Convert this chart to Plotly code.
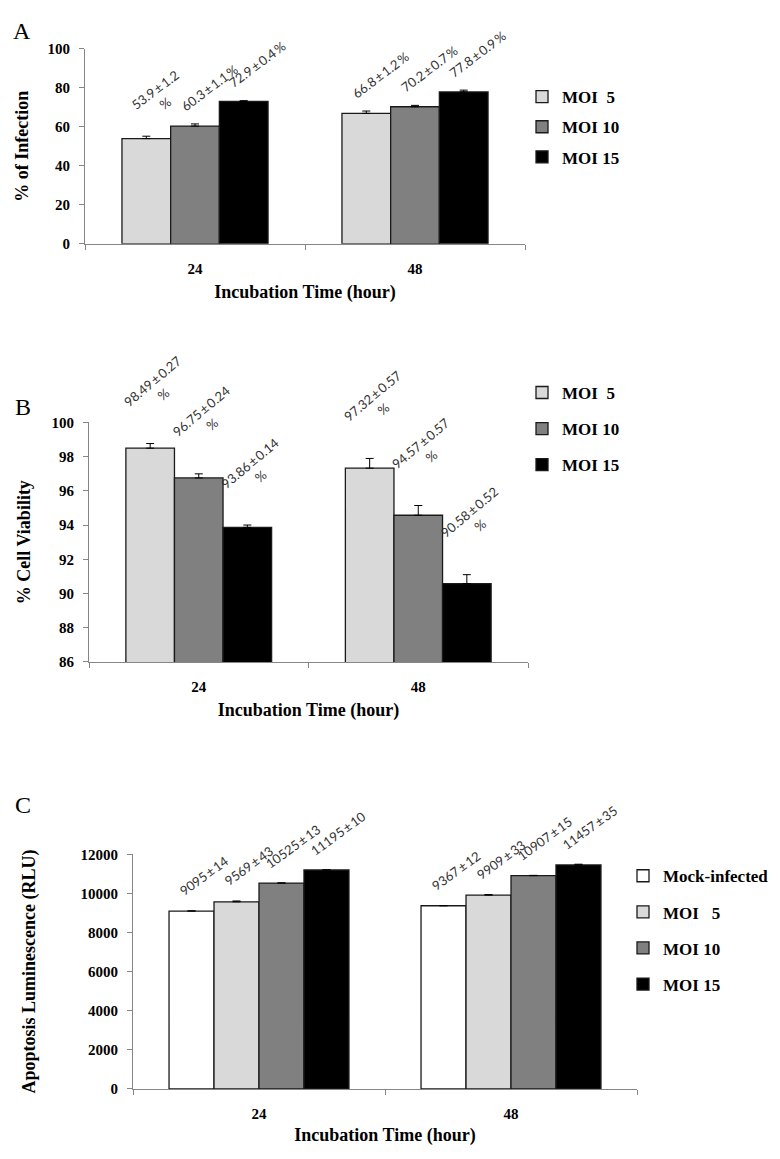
import plotly.graph_objects as go

W, H = 780, 1159

# ---------------- data ----------------
times = ["24", "48"]
PM = "\u2009±\u2009"

# Panel A: % of infection
a_names = ["MOI\u00a0\u00a05", "MOI 10", "MOI 15"]
a_moi5 = [53.9, 66.8]
a_moi5_err = [1.2, 1.2]
a_moi10 = [60.3, 70.2]
a_moi10_err = [1.1, 0.7]
a_moi15 = [72.9, 77.8]
a_moi15_err = [0.4, 0.9]
a_wrap = [[True, False], [False, False], [False, False]]

# Panel B: % cell viability
b_names = ["MOI\u00a0\u00a05", "MOI 10", "MOI 15"]
b_moi5 = [98.49, 97.32]
b_moi5_err = [0.27, 0.57]
b_moi10 = [96.75, 94.57]
b_moi10_err = [0.24, 0.57]
b_moi15 = [93.86, 90.58]
b_moi15_err = [0.14, 0.52]

# Panel C: apoptosis luminescence (RLU)
c_names = ["Mock-infected", "MOI\u00a0\u00a0\u00a05", "MOI 10", "MOI 15"]
c_mock = [9095, 9367]
c_mock_err = [14, 12]
c_moi5 = [9569, 9909]
c_moi5_err = [43, 33]
c_moi10 = [10525, 10907]
c_moi10_err = [13, 15]
c_moi15 = [11195, 11457]
c_moi15_err = [10, 35]

a_vals = [a_moi5, a_moi10, a_moi15]
a_errs = [a_moi5_err, a_moi10_err, a_moi15_err]
a_labels = [[f"{v:.1f}{PM}{e:.1f}" + ("<br>%" if w else "\u2009%")
             for v, e, w in zip(vs, es, ws)]
            for vs, es, ws in zip(a_vals, a_errs, a_wrap)]
b_vals = [b_moi5, b_moi10, b_moi15]
b_errs = [b_moi5_err, b_moi10_err, b_moi15_err]
b_labels = [[f"{v:.2f}{PM}{e:.2f}<br>%" for v, e in zip(vs, es)]
            for vs, es in zip(b_vals, b_errs)]
c_vals = [c_mock, c_moi5, c_moi10, c_moi15]
c_errs = [c_mock_err, c_moi5_err, c_moi10_err, c_moi15_err]
c_labels = [[f"{v}{PM}{e}" for v, e in zip(vs, es)]
            for vs, es in zip(c_vals, c_errs)]

# ---------------- style ----------------
WHITE, LIGHT, MID, DARK = "#FFFFFF", "#D9D9D9", "#808080", "#000000"
SERIF = "Liberation Serif"
SANS = "Lato"
AXIS_GRAY = "#868686"

fig = go.Figure()


def px_x(p):
    return p / W


def px_y(p):
    return 1 - p / H


def add_panel(n, names, vals, errs, colors, labels, group_frac,
              angle, xshift, yshift, legend_name):
    xa = "x" if n == 1 else f"x{n}"
    ya = "y" if n == 1 else f"y{n}"
    k = len(vals)
    bw = group_frac / k
    for j in range(k):
        off = -group_frac / 2 + j * bw
        fig.add_trace(go.Bar(
            x=[0, 1], y=vals[j], width=bw, offset=off,
            name=names[j], legend=legend_name,
            legendgroup=f"{legend_name}_{j}",
            marker=dict(color=colors[j], line=dict(color="#1a1a1a", width=1.3)),
            error_y=dict(type="data", symmetric=False, array=errs[j],
                         arrayminus=[0] * len(errs[j]), color="#000000",
                         thickness=1, width=4),
            xaxis=xa, yaxis=ya, cliponaxis=True,
        ))
        for i in range(2):
            fig.add_annotation(
                x=i + off + bw / 2, y=vals[j][i] + errs[j][i],
                xref=xa, yref=ya, text=labels[j][i], showarrow=False,
                textangle=angle, xanchor="center", yanchor="bottom",
                xshift=xshift, yshift=yshift,
                font=dict(family=SANS, size=13, color="#333333"),
            )


add_panel(1, a_names, a_vals, a_errs, [LIGHT, MID, DARK],
          a_labels, 0.664, -37, 14, 7, "legend")
add_panel(2, b_names, b_vals, b_errs, [LIGHT, MID, DARK],
          b_labels, 0.664, -40, 8, 18, "legend2")
add_panel(3, c_names, c_vals, c_errs, [WHITE, LIGHT, MID, DARK],
          c_labels, 0.714, -36, 12, 9, "legend3")

tickfont = dict(family=SERIF, size=15, color="black", weight="bold")
titlefont = dict(family=SERIF, size=18, color="black", weight="bold")


def xaxis(domain, anchor, standoff):
    return dict(
        domain=domain, anchor=anchor, range=[-0.5, 1.5],
        tickmode="array", tickvals=[0, 1], ticktext=times, ticks="",
        ticklabelstandoff=11,
        minor=dict(tickmode="array", tickvals=[-0.5, 0.5, 1.5],
                   ticks="outside", ticklen=5, tickcolor=AXIS_GRAY),
        showline=True, linecolor=AXIS_GRAY, linewidth=1,
        showgrid=False, zeroline=False, tickfont=tickfont,
        title=dict(text="Incubation Time (hour)", font=titlefont,
                   standoff=standoff),
        fixedrange=True,
    )


def yaxis(domain, anchor, rng, dtick, title, standoff):
    return dict(
        domain=domain, anchor=anchor, range=rng, dtick=dtick,
        tick0=rng[0], tickformat="d", ticks="outside", ticklen=5,
        tickcolor=AXIS_GRAY, ticklabelstandoff=6,
        showline=True, linecolor=AXIS_GRAY, linewidth=1,
        showgrid=False, zeroline=False, tickfont=tickfont,
        title=dict(text=title, font=titlefont, standoff=standoff),
        fixedrange=True,
    )


legend_common = dict(
    font=dict(family=SERIF, size=17, color="black", weight="bold"),
    bgcolor="rgba(0,0,0,0)", borderwidth=0, xanchor="left", yanchor="top",
    traceorder="grouped",
)

fig.update_layout(
    width=W, height=H, margin=dict(l=0, r=0, t=0, b=0),
    paper_bgcolor="white", plot_bgcolor="white",
    barmode="overlay", showlegend=True,
    xaxis=xaxis([px_x(77), px_x(517)], "y", 9),
    yaxis=yaxis([px_y(231), px_y(33)], "x", [0, 100], 20, "% of Infection", 14),
    xaxis2=xaxis([px_x(81), px_x(520)], "y2", 9),
    yaxis2=yaxis([px_y(655), px_y(412)], "x2", [86, 100], 2, "% Cell Viability", 16),
    xaxis3=xaxis([px_x(125), px_x(629)], "y3", 7),
    yaxis3=yaxis([px_y(1088), px_y(850)], "x3", [0, 12000], 2000,
                 "Apoptosis Luminescence (RLU)", 40),
    legend=dict(x=px_x(514), y=px_y(64), tracegroupgap=5, **legend_common),
    legend2=dict(x=px_x(514), y=px_y(364), tracegroupgap=11, **legend_common),
    legend3=dict(x=px_x(615), y=px_y(854), tracegroupgap=11, **legend_common),
)

for letter, cx, cy in [("A", 14, 15), ("B", 15, 396), ("C", 15, 800)]:
    fig.add_annotation(x=px_x(cx), y=px_y(cy), xref="paper", yref="paper",
                       text=letter, showarrow=False, xanchor="center",
                       yanchor="middle",
                       font=dict(family=SERIF, size=24, color="black"))

fig.write_html("out.html")
